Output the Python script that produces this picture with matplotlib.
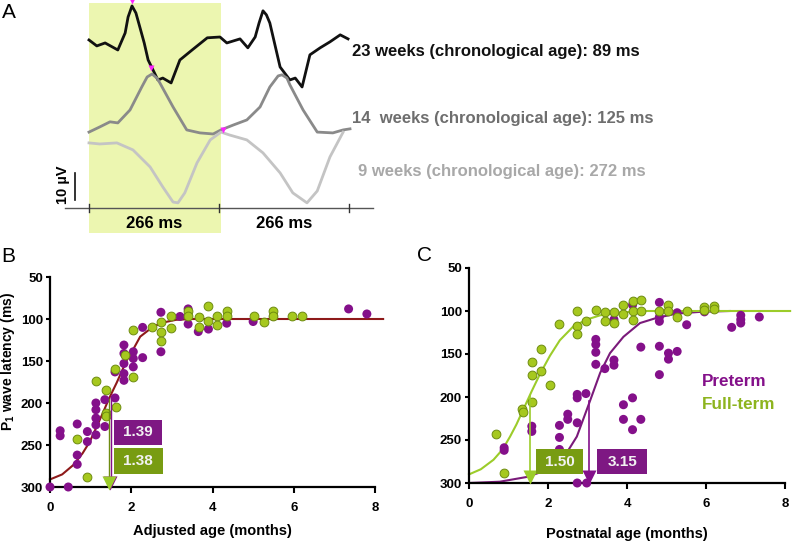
import matplotlib
matplotlib.use('Agg')
import matplotlib.pyplot as plt
from matplotlib.patches import Rectangle

# ---- panel A: steady-state traces (ms, uV) ----
black_t = [0, 16, 33, 59, 74, 80, 88, 96, 104, 113, 121, 141, 151, 168, 186, 211, 242, 268, 282,
           309, 325, 340, 348, 356, 363, 370, 391, 411, 422, 436, 452, 473, 493, 514, 530]
black_v = [62.2, 60.0, 61.1, 58.5, 64.8, 70.7, 74.8, 72.2, 67.0, 61.1, 54.8, 47.4, 48.1, 46.3,
           54.8, 58.5, 63.0, 63.3, 61.1, 62.6, 59.3, 63.3, 68.5, 73.0, 71.5, 68.5, 52.2, 47.4,
           48.1, 44.8, 56.7, 59.3, 61.5, 64.1, 62.6]
gray_t = [0, 22, 43, 59, 84, 108, 119, 129, 139, 145, 172, 200, 227, 254, 270, 295, 323, 350,
          370, 387, 395, 405, 411, 438, 467, 499, 520, 534]
gray_v = [28.1, 30.0, 31.9, 31.5, 36.3, 44.8, 48.5, 49.6, 48.1, 46.3, 37.4, 28.9, 27.8, 27.4,
          28.9, 30.7, 32.6, 37.4, 44.8, 48.9, 49.3, 48.1, 45.6, 36.3, 28.1, 27.8, 28.9, 29.3]
light_t = [0, 22, 57, 90, 125, 151, 172, 182, 196, 221, 248, 270, 288, 323, 356, 391, 417, 446,
           467, 493, 520]
light_v = [24.1, 23.7, 24.1, 21.5, 15.2, 7.8, 2.2, 1.9, 5.6, 16.7, 25.2, 28.1, 27.0, 25.2, 20.4,
           13.0, 5.6, 1.9, 6.3, 18.9, 28.1]
peak_t = [88, 127, 274]
peak_v = [76.5, 52.0, 29.0]
trace_labels = ['23 weeks (chronological age): 89 ms',
                '14  weeks (chronological age): 125 ms',
                '9 weeks (chronological age): 272 ms']
period_ms = 266

# ---- panel B: adjusted age ----
bp_x = [0, 0.45, 0.25, 0.25, 0.67, 0.67, 0.67, 0.92, 0.92, 1.13, 1.13, 1.13, 1.13, 1.13, 1.35,
        1.35, 1.6, 1.6, 1.82, 1.82, 1.82, 1.82, 1.82, 2.05, 2.05, 2.05, 2.28, 2.28, 2.73, 2.73,
        3.2, 3.4, 3.4, 3.65, 3.9, 4.35, 5.0, 5.5, 7.35, 7.8]
bp_y = [300, 300, 233, 239, 225, 262, 273, 234, 246, 200, 208, 218, 226, 238, 196, 228, 194, 163,
        131, 141, 153, 165, 173, 139, 147, 157, 110, 146, 92, 139, 97, 88, 106, 115, 112, 105,
        103, 97, 88, 94]
bg_x = [0.67, 0.92, 1.13, 1.38, 1.38, 1.38, 1.6, 1.62, 1.85, 2.05, 2.05, 2.52, 2.73, 2.73, 2.73,
        2.98, 2.98, 3.4, 3.4, 3.67, 3.67, 3.9, 3.9, 4.1, 4.1, 4.35, 4.35, 5.03, 5.27, 5.5, 5.5,
        5.95, 6.2]
bg_y = [243, 288, 174, 184, 212, 216, 159, 205, 143, 169, 113, 110, 103, 115, 126, 97, 111, 90,
        97, 98, 110, 84, 102, 97, 107, 90, 97, 97, 104, 90, 97, 97, 97]
bfit_x = [0, 0.3, 0.57, 0.8, 0.98, 1.15, 1.3, 1.45, 1.64, 1.89, 2.05, 2.22, 2.54, 2.8, 3.1, 3.5,
          4.0, 8.2]
bfit_y = [291, 285, 274, 260, 246, 228, 212, 195, 176, 149, 136, 121, 109, 104, 101, 100, 100, 100]

# ---- panel C: postnatal age ----
cp_x = [0.89, 0.89, 1.59, 1.59, 2.29, 2.29, 2.29, 2.5, 2.5, 2.74, 2.74, 2.74, 2.74, 2.96, 2.98,
        3.21, 3.21, 3.21, 3.21, 3.44, 3.67, 3.67, 3.67, 3.91, 3.91, 4.14, 4.14, 4.35, 4.35, 4.14,
        4.82, 4.82, 4.82, 4.82, 4.82, 5.05, 5.05, 5.27, 5.27, 5.51, 5.96, 6.65, 6.88, 6.88, 6.88,
        7.35]
cp_y = [259, 262, 234, 240, 233, 247, 261, 220, 226, 197, 201, 230, 300, 196, 300, 133, 139, 148,
        162, 167, 157, 163, 110, 209, 226, 201, 238, 226, 142, 93, 90, 107, 112, 141, 174, 149,
        156, 147, 102, 116, 101, 119, 105, 110, 114, 107]
cg_x = [0.68, 0.89, 1.35, 1.37, 1.59, 1.59, 1.59, 1.83, 1.83, 2.05, 2.29, 2.74, 2.74, 2.74, 2.96,
        3.21, 3.44, 3.44, 3.67, 3.67, 3.91, 3.91, 4.14, 4.14, 4.14, 4.35, 4.35, 4.82, 5.05, 5.05,
        5.27, 5.51, 5.96, 5.96, 6.19, 6.19]
cg_y = [243, 288, 214, 217, 159, 174, 206, 144, 170, 186, 115, 100, 117, 127, 112, 99, 101, 112,
        101, 114, 93, 103, 88, 100, 111, 87, 100, 100, 93, 100, 107, 100, 95, 99, 94, 98]
cgfit_x = [0, 0.3, 0.62, 0.85, 1.04, 1.2, 1.33, 1.45, 1.59, 1.8, 2.05, 2.3, 2.64, 2.98, 3.32,
           3.8, 4.4, 8.13]
cgfit_y = [290, 284, 273, 261, 246, 232, 219, 207, 193, 173, 152, 134, 118, 110, 105, 102, 100, 100]
cpfit_x = [0, 0.78, 1.46, 1.97, 2.39, 2.73, 3.06, 3.32, 3.57, 3.91, 4.33, 4.75, 5.26, 5.85, 6.6]
cpfit_y = [300, 298.5, 293, 285, 271, 246, 205, 172, 149, 130, 114, 108, 103, 101, 100]

PURPLE = '#84108a'
PURPLE_BOX = '#7e1883'
GREEN = '#a6c81e'
GREEN_EDGE = '#6e8c10'
GREEN_BOX = '#789c12'
GREEN_LINE = '#9ccc2a'
RED = '#8e1a1a'

plt.rcParams['font.family'] = ['Liberation Sans', 'DejaVu Sans']
plt.rcParams['font.weight'] = 'bold'
plt.rcParams['axes.labelweight'] = 'bold'
plt.rcParams['mathtext.default'] = 'regular'

W, H = 792, 545
fig = plt.figure(figsize=(W / 100, H / 100), dpi=100, facecolor='w')


def place(l, t, r, b):
    return [l / W, 1 - b / H, (r - l) / W, (b - t) / H]


# ---------- A ----------
axA = fig.add_axes(place(60, 0, 380, 240))
axA.set_xlim(-59.3, 595.4)
axA.set_ylim(-11.85, 77.0)
axA.axis('off')
axA.add_patch(Rectangle((0, -9.3), 270, 85.2, facecolor='#ecf6b0', edgecolor='none', zorder=0))
axA.plot([-49, 581], [0, 0], color='#555555', lw=1.0)
for t in [0, period_ms, 2 * period_ms]:
    axA.plot([t, t], [-1.3, 1.3], color='#333333', lw=1.0)
axA.plot(black_t, black_v, color='#111111', lw=2.0, solid_joinstyle='round')
axA.plot(gray_t, gray_v, color='#8a8a8a', lw=2.0, solid_joinstyle='round')
axA.plot(light_t, light_v, color='#c4c4c4', lw=2.0, solid_joinstyle='round')
axA.plot(peak_t, peak_v, 'v', color='#ff22ff', ms=4, mec='none')
axA.plot([-28.6, -28.6], [3.0, 13.0], color='#111111', lw=1.2)
axA.text(-53, 8.5, '10 µV', rotation=90, ha='center', va='center', fontsize=10.5)
axA.text(period_ms / 2, -5.9, '266 ms', ha='center', va='center', fontsize=12)
axA.text(period_ms * 1.5, -5.9, '266 ms', ha='center', va='center', fontsize=12)

label_colors = ['#111111', '#6e6e6e', '#a8a8a8']
label_pos = [(352, 51), (352, 118), (358, 171)]
for txt, c, (px, py) in zip(trace_labels, label_colors, label_pos):
    fig.text(px / W, 1 - py / H, txt, color=c, fontsize=12, ha='left', va='center')

for lab, (px, py) in zip(['A', 'B', 'C'], [(9, 13), (8, 256), (424, 255)]):
    fig.text(px / W, 1 - py / H, lab, fontsize=15, fontweight='normal', ha='center', va='center')


def style_axis(ax, xlabel, xlabelpad):
    ax.set_xlim(0, 8)
    ax.set_ylim(300, 50)
    ax.set_xticks([0, 2, 4, 6, 8])
    ax.set_yticks([50, 100, 150, 200, 250, 300])
    for s in ['top', 'right']:
        ax.spines[s].set_visible(False)
    for s in ['left', 'bottom']:
        ax.spines[s].set_linewidth(1.6)
    ax.tick_params(axis='y', direction='out', length=3, width=1.5, labelsize=9.5, pad=2)
    ax.tick_params(axis='x', direction='out', length=4, width=1.5, labelsize=9.5, pad=7)
    ax.set_xlabel(xlabel, fontsize=10.5, labelpad=xlabelpad)


def value_box(ax, x0, x1, y0, y1, color, txt):
    ax.add_patch(Rectangle((x0, y0), x1 - x0, y1 - y0, facecolor=color, edgecolor='none', zorder=5,
                           clip_on=False))
    ax.text((x0 + x1) / 2, (y0 + y1) / 2, txt, color='#f2f2f2', fontsize=11, ha='center',
            va='center', zorder=6)


# ---------- B ----------
axB = fig.add_axes(place(50, 277, 375, 487))
style_axis(axB, 'Adjusted age (months)', 7)
axB.set_ylabel('P$_1$ wave latency (ms)', fontsize=10)
axB.yaxis.set_label_coords(-0.103, 0.6)
axB.plot(bfit_x, bfit_y, color=RED, lw=1.5, clip_on=False, zorder=2)
axB.scatter(bp_x, bp_y, s=42, color=PURPLE, edgecolors='none', clip_on=False, zorder=3)
axB.scatter(bg_x, bg_y, s=40, color=GREEN, edgecolors=GREEN_EDGE, linewidths=0.7, clip_on=False,
            zorder=4)
axB.plot([1.45, 1.45], [195, 294], color=GREEN_EDGE, lw=1.0, zorder=5)
axB.plot([1.49, 1.49], [195, 294], color=PURPLE, lw=1.0, zorder=5)
axB.plot([1.48], [295], 'v', color=PURPLE, ms=10, mec='none', zorder=5, clip_on=False)
axB.plot([1.46], [295], 'v', color=GREEN_LINE, ms=10, mec='none', zorder=5, clip_on=False)
value_box(axB, 1.58, 2.75, 220, 250, PURPLE_BOX, '1.39')
value_box(axB, 1.58, 2.77, 254, 284, GREEN_BOX, '1.38')

# ---------- C ----------
axC = fig.add_axes(place(469, 268, 785, 483))
style_axis(axC, 'Postnatal age (months)', 12)
axC.plot(cpfit_x, cpfit_y, color='#7a1a7a', lw=1.5, clip_on=False, zorder=2)
axC.plot(cgfit_x, cgfit_y, color=GREEN_LINE, lw=1.5, clip_on=False, zorder=2)
axC.scatter(cp_x, cp_y, s=42, color=PURPLE, edgecolors='none', clip_on=False, zorder=3)
axC.scatter(cg_x, cg_y, s=40, color=GREEN, edgecolors=GREEN_EDGE, linewidths=0.7, clip_on=False,
            zorder=4)
axC.plot([1.55, 1.55], [199, 292], color=GREEN_LINE, lw=1.2, zorder=5)
axC.plot([1.55], [293], 'v', color=GREEN_LINE, ms=10, mec='none', zorder=5, clip_on=False)
axC.plot([3.05, 3.05], [205, 292], color=PURPLE, lw=1.2, zorder=5)
axC.plot([3.05], [293], 'v', color=PURPLE, ms=10, mec='none', zorder=5, clip_on=False)
value_box(axC, 1.70, 2.88, 261, 290, GREEN_BOX, '1.50')
value_box(axC, 3.25, 4.50, 261, 290, PURPLE_BOX, '3.15')
axC.text(5.9, 182, 'Preterm', color=PURPLE, fontsize=12.3, ha='left', va='center')
axC.text(5.9, 209, 'Full-term', color='#8db41e', fontsize=12.3, ha='left', va='center')

fig.savefig('out.png', dpi=100, facecolor='w')
